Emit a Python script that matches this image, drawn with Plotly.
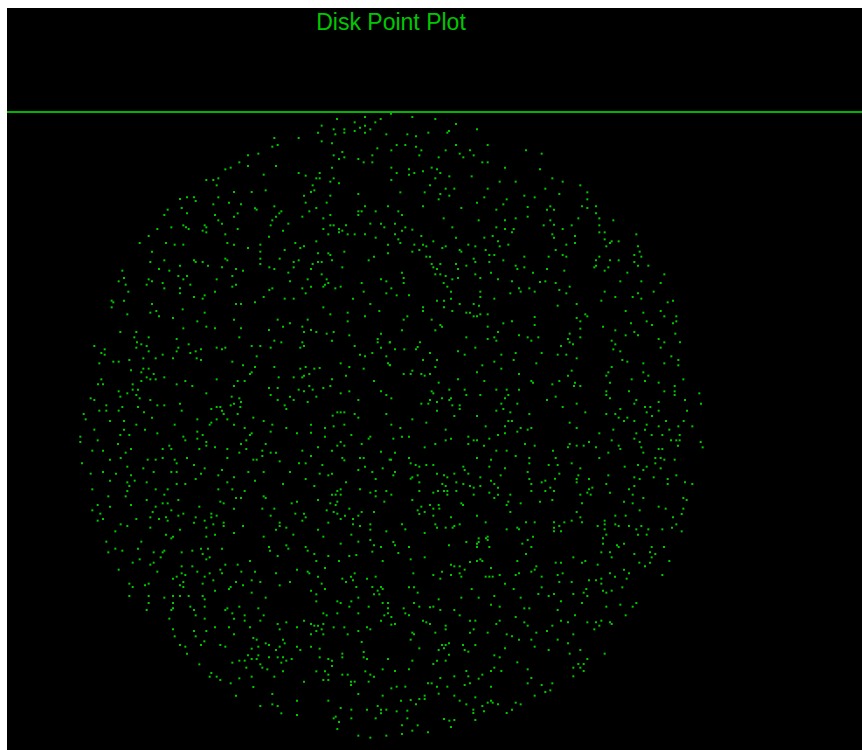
import plotly.graph_objects as go

TITLE = "Disk Point Plot"
GREEN = "#00c800"

# Disk readings per quadrant, in units of 1/3 pixel of the original chart.
upper_left = [(801,27),(885,21),(932,27),(854,37),(916,37),(755,47),(885,47),(870,53),(791,58),(823,58),(901,58),(854,63),(744,68),(823,68),(885,68),(796,73),(949,73),(613,84),(686,84),(755,94),(786,100),(607,110),(623,105),(922,115),(817,126),(565,131),(534,136),(791,136),(907,136),(823,142),(807,147),(865,147),(881,157),(907,157),(508,157),(534,168),(618,168),(482,173),(466,178),(786,173),(686,189),(749,189),(581,194),(707,197),(739,205),(749,205),(791,205),(445,205),(409,210),(430,210),(781,215),(807,220),(440,226),(728,226),(733,241),(587,241),(492,246),(545,246),(723,246),(702,257),(781,257),(865,252),(351,262),(372,262),(445,262),(330,267),(377,273),(477,278),(707,278),(770,278),(430,283),(513,283),(613,289),(885,289),(954,289),(335,294),(555,295),(560,299),(739,294),(293,299),(718,304),(865,304),(875,304),(917,304),(351,310),(503,310),(634,304),(628,310),(283,315),(435,315),(781,315),(865,315),(492,320),(618,320),(697,320),(760,325),(445,331),(607,331),(456,341),(655,341),(901,341),(933,341),(340,346),(404,346),(602,346),(781,346),(791,346),(828,346),(348,352),(409,352),(943,352),(304,352),(262,357),(356,357),(503,357),(760,357),(807,357),(398,362),(639,362),(817,362),(409,367),(807,367),(466,373),(775,373),(833,373),(854,373),(885,373),(236,378),(597,380),(917,383),(739,394),(209,399),(288,399),(472,399),(676,399),(314,404),(340,404),(492,404),(571,404),(954,404),(702,409),(691,414),(534,414),(644,420),(246,425),(571,425),(823,425),(744,430),(775,430),(781,435),(954,430),(912,440),(466,446),(571,446),(629,446),(283,451),(372,451),(472,451),(686,451),(786,451),(896,451),(241,456),(377,456),(398,456),(571,462),(671,456),(744,456),(755,456),(728,462),(330,467),(414,467),(456,472),(671,472),(817,472),(267,477),(498,477),(598,472),(613,477),(723,477),(157,482),(298,482),(519,482),(655,488),(755,493),(325,498),(351,498),(487,498),(162,504),(236,508),(340,508),(440,508),(713,508),(770,508),(933,508),(146,514),(246,514),(660,514),(949,514),(278,519),(775,519),(875,519),(167,524),(230,524),(361,524),(498,524),(765,524),(487,530),(723,530),(760,530),(812,530),(283,535),(330,535),(607,535),(697,535),(796,535),(598,540),(175,545),(435,545),(881,545),(330,550),(707,550),(949,550),(404,556),(372,561),(581,561),(398,566),(644,566),(671,566),(849,566),(125,572),(130,577),(162,572),(555,577),(246,582),(498,582),(513,582),(901,582),(125,592),(760,592),(259,603),(338,598),(928,603),(241,608),(404,608),(833,608),(172,613),(781,613),(267,619),(885,619),(309,624),(492,629),(623,629),(713,629),(382,634),(660,640),(833,634),(409,650),(639,650),(697,650),(340,655),(435,655),(513,655),(597,660),(151,666),(199,666),(723,660),(702,666),(739,666),(791,666),(770,671),(933,671),(838,676),(193,682),(236,682),(508,682),(320,687),(923,687),(613,692),(786,692),(201,697),(634,697),(697,697),(923,697),(959,697),(214,703),(356,703),(73,708),(230,708),(545,708),(571,708),(702,708),(854,708),(199,713),(325,713),(440,713),(466,713),(602,713),(691,713),(933,713),(104,718),(393,718),(456,718),(236,724),(320,724),(377,724),(94,729),(361,729),(907,729),(104,734),(278,734),(870,734),(560,739),(885,739),(949,739),(220,745),(257,745),(309,745),(380,745),(393,750),(178,750),(130,755),(146,755),(487,755),(88,760),(812,760),(954,760),(959,765),(519,766),(707,771),(613,771),(555,771),(220,776),(236,776),(691,776),(733,776),(749,774),(838,771),(881,776),(183,781),(214,787),(545,787),(540,792),(718,792),(251,792),(828,797),(702,797),(230,802),(283,802),(626,802),(671,802),(697,802),(94,808),(241,808),(257,808),(440,808),(786,808),(214,813),(346,813),(503,813),(524,813),(912,813),(84,823),(99,823),(188,823),(320,823),(492,828),(367,828),(718,828),(781,828),(597,834),(623,834),(760,834),(188,839),(204,839),(686,839),(728,839),(146,844),(702,844),(838,844),(933,844),(172,850),(409,850),(812,850),(199,855),(602,855),(949,855),(151,860),(485,860),(660,860),(739,860),(62,865),(209,865),(508,865),(73,870),(241,870),(623,870),(671,870),(865,870),(513,876),(713,876),(330,881),(492,881),(109,886),(262,886),(283,886),(482,886),(644,886),(157,891),(204,891),(440,891),(451,891),(511,891),(424,897),(649,897),(88,902),(109,902),(146,902),(335,902),(456,902),(222,907),(802,907),(812,907),(823,907),(41,912),(461,912),(503,912),(854,912),(949,912),(788,917),(246,923),(550,923),(865,923),(47,928),(382,928),(440,928),(472,928),(120,933),(162,933),(581,933),(424,938),(199,944),(314,944),(419,944),(492,944),(607,944),(723,944),(823,944),(791,949),(524,954),(649,954),(765,954),(73,959),(162,959),(225,959)]

upper_right = [(3,11),(67,21),(136,27),(198,42),(261,58),(177,63),(172,68),(115,68),(52,73),(78,79),(20,105),(46,105),(78,110),(198,105),(293,105),(4,121),(94,121),(167,121),(240,121),(408,121),(209,131),(455,131),(88,136),(251,136),(146,142),(220,142),(277,157),(293,157),(4,173),(125,173),(345,173),(57,178),(141,178),(450,178),(99,184),(20,189),(73,189),(151,189),(57,194),(178,199),(245,199),(136,205),(487,205),(4,210),(329,215),(377,215),(518,215),(120,226),(571,226),(167,236),(193,236),(293,236),(466,236),(31,247),(104,247),(592,247),(151,252),(178,257),(403,257),(508,252),(283,262),(434,262),(146,268),(350,268),(592,268),(261,278),(340,283),(99,289),(413,291),(481,289),(576,289),(618,289),(214,294),(592,294),(319,299),(471,299),(492,299),(25,304),(36,315),(618,310),(413,320),(161,325),(266,331),(345,331),(377,325),(481,331),(565,325),(628,325),(670,331),(15,341),(492,344),(461,346),(545,346),(628,346),(46,352),(187,352),(319,352),(36,362),(67,359),(345,357),(371,357),(518,357),(366,367),(628,367),(644,367),(15,373),(94,378),(308,378),(487,373),(739,373),(555,378),(198,383),(283,383),(25,388),(492,383),(644,388),(130,394),(324,394),(665,394),(686,394),(660,399),(31,399),(555,399),(73,404),(99,404),(235,404),(355,404),(529,404),(109,409),(167,409),(256,409),(329,409),(649,409),(744,409),(157,414),(88,420),(209,420),(214,425),(287,420),(497,420),(67,425),(749,425),(298,435),(313,435),(518,435),(733,435),(109,440),(120,440),(403,440),(476,440),(529,440),(628,440),(754,440),(251,446),(340,451),(618,451),(660,451),(686,451),(256,456),(298,456),(733,456),(125,462),(151,462),(198,462),(229,467),(377,467),(618,467),(744,467),(775,467),(130,472),(403,472),(613,472),(655,472),(141,477),(204,477),(382,477),(471,477),(523,482),(644,482),(36,488),(303,488),(429,488),(712,488),(136,493),(151,493),(256,493),(167,498),(823,493),(41,504),(204,504),(271,504),(187,508),(324,508),(366,514),(450,516),(466,514),(691,514),(754,514),(41,519),(161,519),(497,519),(812,519),(172,530),(539,530),(4,535),(387,535),(418,535),(508,540),(183,545),(271,545),(392,545),(434,545),(644,545),(791,545),(361,550),(529,550),(744,550),(20,556),(57,556),(271,561),(676,561),(728,561),(183,566),(313,566),(754,566),(141,572),(162,572),(634,572),(849,572),(833,577),(209,582),(251,582),(560,582),(267,587),(503,587),(99,592),(162,592),(99,603),(187,603),(707,603),(812,603),(229,608),(240,608),(760,608),(271,613),(293,613),(586,613),(52,619),(251,619),(261,619),(592,619),(823,619),(859,619),(434,621),(560,624),(41,629),(125,629),(571,634),(366,634),(770,634),(859,634),(340,640),(723,640),(849,640),(151,645),(156,650),(293,650),(434,645),(639,650),(786,645),(571,656),(36,661),(136,661),(676,661),(324,666),(733,666),(539,671),(856,671),(387,676),(707,676),(744,676),(229,682),(313,682),(413,682),(445,682),(571,682),(293,687),(534,687),(806,687),(319,692),(424,692),(665,692),(90,697),(0,697),(539,697),(823,697),(870,697),(549,703),(676,703),(83,711),(513,708),(256,713),(812,713),(15,718),(43,718),(78,718),(670,718),(204,724),(691,724),(120,729),(377,729),(455,729),(224,734),(334,734),(503,734),(529,734),(844,739),(560,745),(99,750),(141,750),(371,750),(697,750),(865,750),(313,755),(712,755),(439,760),(760,760),(823,760),(0,766),(277,766),(865,766),(136,771),(665,771),(334,776),(67,782),(545,782),(261,787),(655,787),(760,787),(41,792),(62,792),(94,792),(120,792),(387,792),(104,797),(534,797),(649,797),(775,797),(204,808),(725,808),(880,808),(283,813),(424,813),(508,813),(765,813),(146,818),(429,818),(555,818),(660,818),(806,818),(487,823),(552,828),(571,828),(854,828),(178,839),(224,839),(319,839),(350,839),(387,839),(125,844),(130,850),(649,844),(717,844),(823,844),(854,844),(928,850),(229,855),(271,855),(355,855),(649,855),(854,855),(497,860),(4,865),(156,865),(183,865),(345,865),(660,865),(120,870),(178,870),(471,870),(739,870),(885,870),(141,876),(806,876),(94,881),(115,881),(334,881),(382,881),(560,881),(733,881),(933,881),(187,886),(209,886),(518,891),(765,891),(781,891),(141,902),(209,897),(340,897),(691,897),(319,902),(806,902),(891,902),(361,907),(586,907),(770,907),(193,918),(261,918),(418,912),(649,912),(676,912),(786,918),(686,923),(712,923),(67,928),(355,933),(366,933),(702,933),(733,933),(828,933),(881,933),(109,938),(539,938),(4,944),(770,944),(287,949),(345,949),(806,949),(865,949),(907,949),(31,954),(392,954),(424,954),(560,954),(167,959),(413,959),(670,959),(765,959),(838,959)]

lower_left = [(382,5),(545,10),(602,5),(681,10),(723,8),(844,15),(262,10),(151,15),(178,15),(398,15),(540,15),(340,20),(31,20),(765,20),(901,20),(382,26),(896,26),(346,31),(529,31),(83,31),(31,36),(409,36),(812,36),(513,42),(587,42),(144,42),(875,42),(298,47),(409,47),(802,47),(823,47),(435,52),(744,52),(183,57),(278,57),(304,57),(388,57),(472,57),(529,57),(67,62),(99,62),(577,62),(697,62),(786,62),(933,65),(167,68),(508,68),(602,68),(618,68),(577,78),(723,78),(152,84),(278,84),(351,84),(472,84),(817,84),(870,84),(881,84),(120,89),(233,89),(257,89),(314,89),(550,89),(560,89),(823,91),(959,89),(629,94),(36,100),(320,100),(687,100),(707,100),(372,105),(757,105),(172,110),(885,110),(220,115),(404,115),(938,115),(456,120),(865,120),(99,126),(251,126),(304,126),(320,126),(535,126),(581,126),(660,126),(907,126),(62,131),(138,131),(393,131),(749,131),(786,131),(183,136),(445,136),(775,136),(492,142),(377,147),(707,147),(917,147),(120,152),(194,152),(555,152),(172,157),(230,157),(472,157),(828,157),(320,162),(346,162),(639,162),(178,168),(733,168),(67,178),(257,178),(445,178),(487,178),(812,178),(870,178),(172,183),(293,178),(524,183),(802,183),(917,183),(949,183),(901,188),(283,194),(786,194),(797,194),(812,194),(115,199),(167,199),(581,199),(917,199),(498,204),(513,204),(587,204),(230,210),(325,210),(744,210),(451,215),(802,215),(943,215),(278,220),(293,220),(461,220),(665,220),(681,215),(781,220),(183,225),(83,225),(120,230),(257,230),(388,230),(797,225),(492,236),(577,236),(613,236),(838,236),(67,241),(304,241),(770,241),(248,246),(791,246),(875,246),(912,246),(91,251),(340,251),(424,251),(676,251),(702,251),(802,251),(325,257),(440,257),(602,257),(825,257),(865,257),(241,262),(288,262),(377,262),(424,262),(707,262),(199,267),(267,267),(99,267),(849,267),(83,272),(293,272),(404,272),(697,272),(812,267),(372,278),(461,278),(629,278),(775,278),(152,283),(430,283),(849,283),(901,283),(172,288),(461,288),(519,288),(629,288),(870,288),(241,293),(409,293),(649,293),(330,299),(618,299),(744,299),(901,299),(136,304),(492,309),(949,304),(288,314),(435,314),(670,314),(844,314),(309,320),(409,320),(581,320),(760,320),(304,325),(901,330),(109,335),(214,335),(865,335),(812,341),(649,346),(912,346),(597,351),(707,351),(933,351),(136,356),(204,356),(393,356),(414,356),(456,356),(157,362),(283,362),(367,362),(600,362),(655,356),(713,362),(278,367),(115,367),(251,367),(335,367),(907,365),(398,372),(733,372),(859,375),(272,382),(419,382),(623,378),(775,378),(838,378),(209,388),(409,388),(188,398),(251,398),(540,393),(739,393),(807,393),(938,393),(241,404),(466,404),(503,404),(335,409),(367,409),(765,414),(146,419),(451,419),(681,419),(262,425),(382,425),(514,425),(555,425),(713,425),(419,430),(456,430),(618,430),(718,430),(854,430),(335,430),(346,435),(320,440),(404,440),(744,440),(843,440),(917,440),(309,446),(817,446),(891,446),(430,451),(545,451),(849,451),(340,456),(498,456),(571,456),(660,456),(828,456),(178,461),(236,461),(398,461),(755,461),(225,466),(330,466),(519,466),(629,466),(188,471),(340,471),(482,471),(477,477),(765,477),(859,471),(907,471),(933,471),(938,477),(435,482),(723,482),(923,482),(545,488),(178,498),(236,498),(283,503),(309,498),(330,498),(356,498),(398,498),(739,493),(912,493),(928,493),(587,503),(865,503),(404,508),(739,514),(802,514),(844,514),(236,519),(309,519),(812,519),(938,519),(954,519),(361,530),(404,530),(508,530),(838,530),(896,530),(309,535),(565,535),(230,540),(304,540),(372,540),(466,540),(472,535),(954,535),(487,550),(760,550),(802,550),(865,550),(954,550),(377,556),(524,556),(581,556),(770,556),(943,556),(298,566),(404,566),(492,566),(524,572),(571,572),(702,572),(933,572),(649,577),(623,582),(723,582),(733,587),(744,587),(760,582),(435,592),(477,592),(540,592),(681,592),(791,592),(823,592),(891,592),(309,598),(629,598),(755,598),(901,598),(372,603),(409,603),(739,603),(865,603),(492,613),(723,613),(760,613),(833,613),(314,619),(377,619),(550,624),(560,629),(639,629),(403,634),(875,636),(587,640),(644,640),(330,645),(393,645),(451,645),(597,645),(346,650),(466,650),(565,650),(629,650),(681,650),(723,650),(545,656),(749,656),(618,660),(691,660),(881,666),(351,671),(817,671),(534,676),(565,676),(597,682),(623,682),(639,682),(749,682),(817,682),(881,682),(545,687),(560,687),(665,687),(775,687),(891,687),(954,687),(508,692),(524,692),(649,692),(786,692),(487,698),(634,698),(388,703),(571,703),(786,708),(529,713),(577,713),(592,718),(938,718),(639,724),(739,724),(765,724),(886,724),(424,729),(775,734),(817,734),(833,734),(901,734),(912,740),(419,740),(440,740),(545,740),(613,740),(508,745),(451,750),(760,750),(775,750),(702,755),(843,755),(854,755),(896,755),(482,760),(843,765),(550,771),(607,792),(865,792),(498,797),(938,797),(681,812),(775,812),(607,823),(571,828),(623,828),(923,828),(812,834),(844,839),(891,839),(933,839),(949,839),(634,850),(933,850),(681,855),(797,860),(791,865),(844,865),(917,865),(807,876),(802,897),(865,917),(949,917),(901,923)]

lower_right = [(382,5),(628,10),(739,10),(36,20),(57,20),(10,26),(183,26),(235,20),(298,26),(324,15),(345,10),(785,15),(817,15),(869,15),(167,31),(251,31),(261,31),(733,26),(665,31),(843,31),(859,31),(869,31),(136,42),(235,42),(405,42),(539,42),(597,36),(749,36),(932,36),(282,47),(434,47),(560,47),(581,47),(686,47),(864,47),(104,52),(534,52),(618,52),(754,52),(938,52),(319,62),(350,62),(489,62),(691,57),(806,57),(817,57),(15,68),(655,68),(760,68),(377,78),(57,84),(261,84),(418,84),(497,84),(628,84),(796,84),(812,84),(3,89),(303,89),(823,89),(854,89),(62,100),(109,105),(130,105),(298,110),(418,100),(476,105),(503,105),(545,100),(744,105),(796,100),(77,105),(88,110),(704,110),(220,110),(345,115),(571,115),(770,110),(812,115),(224,120),(760,120),(15,126),(413,126),(141,131),(193,131),(235,131),(508,131),(10,136),(83,136),(162,136),(332,136),(565,136),(655,136),(859,136),(67,142),(62,146),(172,142),(271,142),(418,147),(495,146),(560,147),(597,147),(733,142),(749,147),(791,142),(833,147),(303,152),(88,157),(199,157),(455,157),(466,152),(560,157),(885,157),(157,162),(220,162),(313,162),(424,162),(649,162),(833,162),(907,162),(167,168),(240,168),(271,168),(251,173),(324,173),(481,173),(607,173),(733,168),(88,183),(144,183),(162,183),(172,183),(199,183),(424,183),(466,183),(492,183),(597,178),(717,178),(130,188),(298,188),(592,188),(660,188),(4,194),(172,194),(251,194),(324,194),(361,194),(571,194),(602,194),(728,194),(313,204),(760,204),(880,204),(67,210),(487,210),(355,215),(450,215),(702,215),(890,210),(214,220),(392,220),(576,220),(728,220),(120,225),(146,225),(219,225),(350,225),(94,230),(806,230),(130,236),(148,236),(827,236),(880,236),(83,241),(361,246),(560,246),(749,241),(104,246),(88,252),(875,252),(130,257),(261,257),(676,257),(707,257),(183,262),(571,262),(849,262),(644,272),(408,277),(434,277),(287,277),(492,277),(523,277),(545,272),(576,277),(36,283),(136,283),(209,283),(644,283),(676,283),(859,283),(193,288),(508,288),(623,288),(686,288),(717,288),(754,288),(141,293),(167,293),(188,293),(382,293),(492,293),(846,293),(46,298),(350,298),(387,298),(644,298),(739,298),(775,298),(817,298),(492,304),(513,304),(875,304),(104,309),(649,314),(744,314),(770,314),(429,320),(293,320),(266,325),(288,325),(293,330),(413,330),(639,325),(10,336),(229,336),(266,336),(261,341),(397,341),(639,341),(702,341),(15,346),(177,346),(681,346),(261,351),(298,351),(424,351),(686,351),(785,351),(822,351),(57,351),(634,367),(660,367),(780,367),(25,369),(408,372),(733,372),(796,372),(104,382),(550,382),(665,382),(785,382),(62,388),(271,388),(382,393),(261,393),(277,393),(586,393),(240,396),(838,393),(497,398),(513,398),(576,398),(748,398),(780,398),(183,404),(623,404),(193,409),(209,409),(439,409),(303,414),(765,409),(224,419),(434,419),(702,419),(156,425),(424,425),(70,430),(209,430),(387,430),(518,430),(660,430),(717,430),(130,435),(183,435),(329,435),(377,435),(503,435),(675,440),(817,435),(214,440),(287,440),(298,440),(308,440),(455,440),(151,446),(634,446),(710,446),(597,451),(618,451),(508,456),(545,456),(345,461),(634,461),(57,472),(72,472),(455,472),(697,472),(245,477),(371,477),(589,477),(83,488),(581,488),(639,482),(649,488),(665,482),(445,492),(492,492),(550,492),(476,498),(313,498),(592,498),(214,503),(266,503),(392,503),(146,508),(513,514),(72,519),(303,524),(576,519),(739,519),(88,530),(120,532),(130,530),(329,530),(649,530),(691,524),(728,530),(41,535),(403,535),(418,535),(151,540),(193,540),(503,540),(46,550),(57,556),(209,556),(555,556),(707,556),(4,561),(377,561),(99,572),(240,572),(256,572),(329,572),(513,572),(109,577),(319,582),(403,577),(534,577),(592,577),(618,577),(634,572),(660,577),(120,582),(15,582),(4,584),(665,582),(413,587),(167,587),(487,587),(628,587),(167,598),(251,598),(613,598),(471,603),(67,608),(136,608),(240,608),(293,608),(439,608),(72,613),(350,613),(550,613),(366,619),(62,629),(387,629),(424,629),(503,629),(177,640),(534,640),(156,645),(167,645),(219,645),(256,645),(434,650),(88,655),(162,655),(345,655),(146,660),(224,660),(476,660),(235,665),(571,660),(177,674),(539,671),(644,671),(313,676),(329,682),(592,687),(67,692),(141,692),(167,692),(382,697),(130,702),(565,702),(581,702),(313,713),(550,713),(571,713),(57,718),(413,718),(15,723),(229,723),(303,723),(334,723),(581,723),(277,734),(193,739),(235,739),(550,739),(151,744),(266,746),(424,744),(114,760),(125,760),(240,760),(413,760),(487,760),(224,765),(303,770),(455,765),(20,770),(46,770),(141,770),(172,770),(4,775),(481,781),(466,786),(146,791),(104,797),(193,797),(256,802),(434,797),(88,807),(104,807),(62,810),(33,812),(209,812),(303,812),(293,818),(308,818),(377,818),(78,823),(229,823),(324,823),(392,823),(277,828),(250,839),(366,839),(52,842),(20,844),(250,849),(282,844),(350,849),(52,865),(162,867),(178,872),(193,870),(256,870),(36,886),(83,886),(183,891),(67,902),(114,907),(36,912)]

QUAD = 960
xs, ys = [], []
for pts, dx, dy in [(upper_left, 0, 0), (upper_right, QUAD, 0), (lower_left, 0, QUAD), (lower_right, QUAD, QUAD)]:
    xs += [p[0] + dx for p in pts]
    ys += [p[1] + dy for p in pts]

fig = go.Figure(go.Scatter(
    x=xs, y=ys, mode="markers", hoverinfo="skip",
    marker=dict(symbol="square", size=2, color=GREEN, line=dict(width=0)),
))
fig.add_shape(type="line", xref="paper", x0=0, x1=1, yref="y", y0=6, y1=6,
              line=dict(color="#00b400", width=2))
fig.update_layout(
    width=862, height=750, autosize=False,
    paper_bgcolor="white", plot_bgcolor="black",
    margin=dict(l=7, r=0, t=8, b=0, pad=0),
    showlegend=False,
    title=dict(text=TITLE, x=391/862, xanchor="center", y=1-22/750, yanchor="middle",
               font=dict(family="Liberation Sans", size=23, color=GREEN)),
    xaxis=dict(range=[-189, 2376], visible=False, fixedrange=True),
    yaxis=dict(range=[1920, -306], visible=False, fixedrange=True),
)
fig.write_html("out.html", config=dict(displayModeBar=False),
               post_script="document.body.style.margin='0';document.body.style.overflow='hidden';")
